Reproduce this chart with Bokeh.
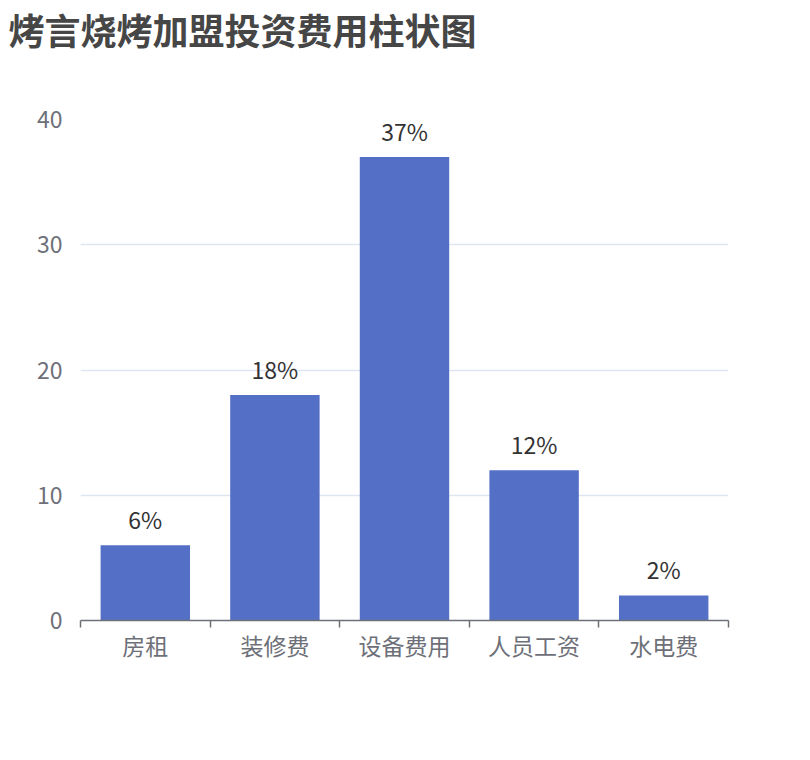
from bokeh.plotting import figure
from bokeh.models import FixedTicker, ColumnDataSource, Title
from bokeh.core.properties import value
from bokeh.embed import file_html
from bokeh.resources import INLINE

categories = ["房租", "装修费", "设备费用", "人员工资", "水电费"]
values = [6, 18, 37, 12, 2]
labels = ["6%", "18%", "37%", "12%", "2%"]

FONT = "Noto Sans CJK SC"
AXIS_COLOR = "#6e7079"

xs = [i + 0.5 for i in range(len(categories))]
src = ColumnDataSource(data=dict(x=xs, top=values, label=labels))

p = figure(
    width=790, height=740,
    x_range=(0, len(categories)), y_range=(0, 40),
    output_backend="svg", toolbar_location=None,
    min_border_left=80, min_border_right=62,
    min_border_top=0, min_border_bottom=120,
)
p.outline_line_color = None
p.background_fill_color = "white"

# empty spacer between frame and title, then the title itself
p.add_layout(Title(text=" ", text_font_size="10px", standoff=52), "above")
p.add_layout(Title(text="烤言烧烤加盟投资费用柱状图", text_font=FONT,
                   text_font_size="36px", text_font_style="bold",
                   text_color="#464646", offset=-72, standoff=0), "above")

p.vbar(x="x", top="top", width=0.69, source=src,
       fill_color="#5470c6", line_color=None)
p.text(x="x", y="top", text="label", source=src,
       text_align="center", text_baseline="bottom", y_offset=-9,
       text_font=value(FONT), text_font_size="23px", text_color="#333333")

# x axis: labels at centres, ticks at category boundaries
p.xaxis.ticker = FixedTicker(ticks=xs, minor_ticks=list(range(len(categories) + 1)))
p.xaxis.major_label_overrides = {x: c for x, c in zip(xs, categories)}
p.xaxis.major_tick_out = 0
p.xaxis.major_tick_in = 0
p.xaxis.minor_tick_out = 7
p.xaxis.minor_tick_in = 0
p.xaxis.minor_tick_line_color = AXIS_COLOR
p.xaxis.axis_line_color = AXIS_COLOR
p.xaxis.axis_line_width = 1.5
p.xaxis.minor_tick_line_width = 1.5
p.xaxis.major_label_text_font = FONT
p.xaxis.major_label_text_font_size = "23px"
p.xaxis.major_label_text_color = AXIS_COLOR
p.xaxis.major_label_standoff = 0
p.xgrid.grid_line_color = None

p.yaxis.ticker = FixedTicker(ticks=[0, 10, 20, 30, 40])
p.yaxis.axis_line_color = None
p.yaxis.major_tick_line_color = None
p.yaxis.minor_tick_line_color = None
p.yaxis.major_label_text_font = FONT
p.yaxis.major_label_text_font_size = "23px"
p.yaxis.major_label_text_color = AXIS_COLOR
p.yaxis.major_label_standoff = 12
p.ygrid.grid_line_color = "#e0e6f1"
p.ygrid.grid_line_width = 1.5

open("out.html", "w").write(file_html(p, INLINE))
